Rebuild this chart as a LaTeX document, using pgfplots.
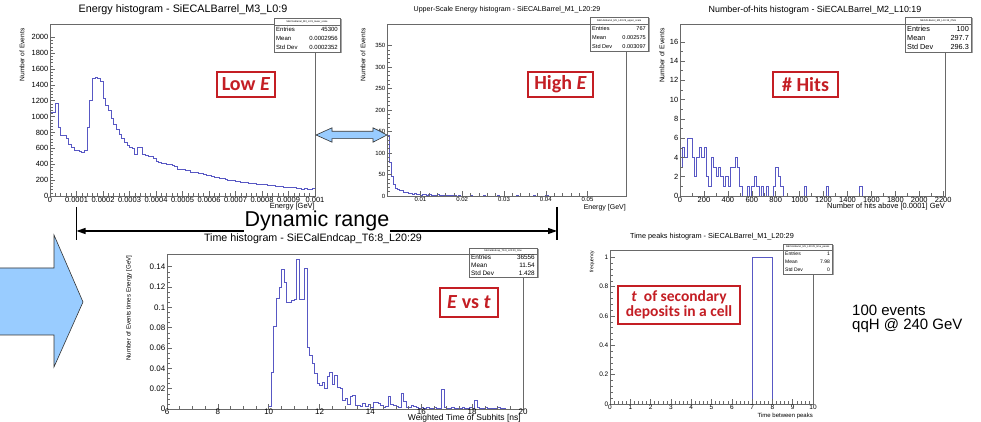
\documentclass[border=0pt]{standalone}
\usepackage{pgfplots}
\pgfplotsset{compat=1.18}
\usepackage{pgfplotstable}
\usetikzlibrary{arrows.meta}
\usepackage{fontspec}
\setmainfont{Liberation Sans}
\newfontfamily\carlito{Carlito}

\definecolor{histblue}{RGB}{88,88,196}
\definecolor{framegray}{RGB}{105,105,105}
\definecolor{boxred}{RGB}{196,30,36}
\definecolor{arrowblue}{RGB}{153,204,255}

% lower-scale energy, bins of 1e-5 GeV (x in bin index)
\pgfplotstableread{
b v
0 0
0 1050
1 1050
2 1170
3 870
4 760
5 760
6 720
7 650
8 610
9 580
10 570
11 560
12 550
13 580
14 870
15 1200
16 1480
17 1500
18 1480
19 1440
20 1230
21 1140
22 1080
23 980
24 900
25 840
26 780
27 720
28 670
29 640
30 610
31 600
32 530
33 610
34 610
35 530
36 510
37 500
38 500
39 480
40 440
41 420
42 415
43 405
44 400
45 395
46 380
47 370
48 340
49 335
50 330
51 325
52 320
53 300
54 298
55 295
56 290
57 280
58 270
59 262
60 255
61 250
62 240
63 232
64 225
65 220
66 208
67 200
68 195
69 198
70 185
71 180
72 175
73 168
74 172
75 160
76 155
77 158
78 150
79 145
80 142
81 146
82 135
83 130
84 132
85 125
86 122
87 124
88 115
89 112
90 110
91 105
92 104
93 100
94 102
95 90
96 95
97 88
98 85
99 92
100 92
100 0
}\lowE

% upper-scale energy, x in 1e-3 GeV
\pgfplotstableread{
x v
2 0
2 142
2.5 78
3 45
3.5 28
4 18
4.5 16
5 14
5.5 12
6 9
6.5 8
7 5
7.5 6
8 4
8.5 5
9 3
9.5 4
10 2
10.5 3
11 3
11.5 2
12 4
12.5 1
13 2
13.5 1
14 3
14.5 1
15 2
15.5 1
16 1
16.5 2
17 1
17.5 2
18 1
18.5 0
19 1
19.5 0
22 1
22.5 0
25 1
25.5 0
28.5 1
29 0
33 1
33.5 0
37 1
37.5 0
40 1
40.5 0
59.2 0
}\highE

\pgfplotstableread{
x v
0 0
0 3
20 5
40 4
60 6
80 6
100 4
120 2
140 4
160 5
180 4
200 5
220 2
240 1
260 4
280 3
300 2
320 3
340 2
360 1
380 2
400 1
420 3
440 3
460 4
480 3
500 1
520 0
560 1
580 0
600 1
620 2
640 1
660 0
680 1
700 0
720 1
740 0
780 1
800 3
820 2
840 1
860 0
1040 1
1060 0
1220 1
1240 0
1500 1
1520 0
}\nhits

\pgfplotstableread{
x v
10.0 0
10.0 0.003
10.1 0.036
10.2 0.081
10.3 0.109
10.4 0.120
10.5 0.137
10.6 0.125
10.7 0.105
10.8 0.105
10.9 0.107
11.0 0.108
11.1 0.147
11.2 0.108
11.3 0.108
11.4 0.138
11.5 0.061
11.6 0.053
11.7 0.045
11.8 0.035
11.9 0.025
12.0 0.023
12.1 0.026
12.2 0.020
12.3 0.032
12.4 0.036
12.5 0.024
12.6 0.033
12.7 0.021
12.8 0.020
12.9 0.009
13.0 0.010
13.1 0.005
13.2 0.012
13.3 0.013
13.4 0.004
13.5 0.004
13.6 0.003
13.7 0.006
13.8 0.003
13.9 0.005
14.0 0.002
14.1 0.007
14.2 0.007
14.3 0.006
14.4 0.004
14.5 0.002
14.6 0.003
14.7 0.012
14.8 0.005
14.9 0.004
15.0 0.003
15.1 0.002
15.2 0.015
15.3 0.008
15.4 0.002
15.5 0.002
15.6 0.004
15.7 0.003
15.8 0.002
15.9 0.001
16.0 0.002
16.1 0.001
16.2 0.002
16.3 0.001
16.4 0.001
16.5 0.002
16.6 0.001
16.7 0.001
16.8 0.019
16.9 0.002
17.0 0.001
17.1 0.001
17.2 0.002
17.3 0.001
17.4 0.001
17.5 0.001
17.6 0.002
17.7 0.001
17.8 0.001
17.9 0.002
18.0 0.001
18.1 0.009
18.2 0.002
18.3 0.001
18.4 0.001
18.5 0.002
18.6 0.001
18.7 0.001
18.8 0.0005
18.9 0.001
19.0 0.002
19.1 0.001
19.2 0.001
19.3 0
}\tdist

\pgfplotstableread{
x v
0 0
7 1
8 0
10 0
}\tpeaks

\pgfplotsset{
  rootaxis/.style={
    scale only axis, anchor=south west, axis on top,
    xtick pos=bottom, ytick pos=left, tick align=inside,
    major tick length=5pt, minor tick length=2.5pt,
    axis line style={framegray, line width=0.6pt},
    tick style={framegray, line width=0.5pt},
    /pgf/number format/assume math mode=true,
    /pgf/number format/1000 sep={},
    scaled ticks=false,
    xticklabel style={inner sep=1pt},
    yticklabel style={inner sep=1.5pt},
  },
  roothist/.style={const plot, histblue, line width=0.7pt, no marks},
}

% x1, ytop, x2, ybottom, header, entries, mean, std dev, font size
\newcommand{\statbox}[9]{%
  \pgfmathsetmacro{\sbhead}{#2-0.2*(#2-#4)}%
  \pgfmathsetmacro{\sbrow}{0.8*(#2-#4)/3}%
  \fill[black!35] (#1+1.5,#4-1.5) rectangle (#3+1.5,#2-1.5);
  \filldraw[fill=white, draw=framegray, line width=0.5pt] (#1,#4) rectangle (#3,#2);
  \draw[framegray, line width=0.4pt] (#1,\sbhead) -- (#3,\sbhead);
  \node[font=\fontsize{2.5}{3}\selectfont, inner sep=0pt] at ({(#1+#3)/2},{(#2+\sbhead)/2}) {#5};
  \foreach \lab/\val [count=\i] in {Entries/#6, Mean/#7, Std Dev/#8} {
    \node[font=\fontsize{#9}{#9}\selectfont, anchor=west, inner sep=0pt] at (#1+2,{\sbhead-(\i-0.5)*\sbrow}) {\lab};
    \node[font=\fontsize{#9}{#9}\selectfont, anchor=east, inner sep=0pt] at (#3-2,{\sbhead-(\i-0.5)*\sbrow}) {\val};
  }
}
% x1, ytop, x2, ybottom, size, text
\newcommand{\redbox}[6]{%
  \filldraw[fill=white, draw=boxred, line width=2.2pt] (#1,#2) rectangle (#3,#4);
  \node[text=boxred, align=center, inner sep=0pt, font=\carlito\bfseries\fontsize{#5}{#5}\selectfont]
    at ({(#1+#3)/2},{(#2+#4)/2}) {#6};
}

\begin{document}
\begin{tikzpicture}[x=1pt,y=1pt]
\useasboundingbox (0,0) rectangle (981,422);

% low E
\begin{axis}[rootaxis, at={(50pt,226pt)}, width=265pt, height=172pt,
  xmin=0, xmax=100, ymin=0, ymax=2167,
  xtick={0,10,...,100},
  xticklabels={0,0.0001,0.0002,0.0003,0.0004,0.0005,0.0006,0.0007,0.0008,0.0009,0.001},
  ytick={0,200,...,2000}, minor x tick num=4, minor y tick num=4,
  tick label style={font=\fontsize{7.5}{8}\selectfont}]
\addplot[roothist] table[x=b,y=v] {\lowE};
\end{axis}

% high E
\begin{axis}[rootaxis, at={(387pt,226pt)}, width=239pt, height=172pt,
  xmin=2, xmax=59.2, ymin=0, ymax=400,
  xtick={10,20,...,50}, xticklabels={0.01,0.02,0.03,0.04,0.05},
  ytick={0,50,...,350}, minor x tick num=4, minor y tick num=4,
  tick label style={font=\fontsize{6}{7}\selectfont}]
\addplot[roothist] table[x=x,y=v] {\highE};
\end{axis}

% number of hits
\begin{axis}[rootaxis, at={(680pt,226pt)}, width=265pt, height=172pt,
  xmin=0, xmax=2215, ymin=0, ymax=17.85,
  xtick={0,200,...,2200}, ytick={0,2,...,16},
  minor x tick num=1, minor y tick num=1,
  tick label style={font=\fontsize{7.5}{8}\selectfont}]
\addplot[roothist] table[x=x,y=v] {\nhits};
\end{axis}

% time
\begin{axis}[rootaxis, at={(167pt,13pt)}, width=356pt, height=155pt,
  xmin=6, xmax=20, ymin=0, ymax=0.1525,
  xtick={6,8,...,20}, ytick={0,0.02,...,0.14},
  minor x tick num=3, minor y tick num=3,
  yticklabel style={/pgf/number format/fixed, /pgf/number format/precision=2},
  xticklabel style={yshift=1.5pt},
  tick label style={font=\fontsize{8}{8}\selectfont}]
\addplot[roothist] table[x=x,y=v] {\tdist};
\end{axis}

% time peaks
\begin{axis}[rootaxis, at={(610pt,18pt)}, width=203pt, height=154pt,
  xmin=0, xmax=10, ymin=0, ymax=1.05,
  xtick={0,1,...,10}, ytick={0,0.2,...,1},
  minor x tick num=4, minor y tick num=4,
  yticklabel style={/pgf/number format/fixed, /pgf/number format/precision=1},
  tick label style={font=\fontsize{6.5}{7}\selectfont}]
\addplot[roothist] table[x=x,y=v] {\tpeaks};
\end{axis}

% titles
\node[font=\fontsize{10.8}{11}\selectfont] at (183,412) {Energy histogram - SiECALBarrel\_M3\_L0:9};
\node[font=\fontsize{7.1}{8}\selectfont] at (507,412) {Upper-Scale Energy histogram - SiECALBarrel\_M1\_L20:29};
\node[font=\fontsize{8.9}{9}\selectfont] at (815,412) {Number-of-hits histogram - SiECALBarrel\_M2\_L10:19};
\node[font=\fontsize{10.7}{11}\selectfont] at (313,183) {Time histogram - SiECalEndcap\_T6:8\_L20:29};
\node[font=\fontsize{7.3}{8}\selectfont] at (712,185) {Time peaks histogram - SiECALBarrel\_M1\_L20:29};

% axis titles
\node[rotate=90, anchor=east, font=\fontsize{6.6}{7}\selectfont] at (22,397) {Number of Events};
\node[rotate=90, anchor=east, font=\fontsize{6.6}{7}\selectfont] at (363,397) {Number of Events};
\node[rotate=90, anchor=east, font=\fontsize{6.8}{7}\selectfont] at (662,397) {Number of Events};
\node[rotate=90, anchor=east, font=\fontsize{6.2}{7}\selectfont] at (129,170) {Number of Events times Energy [GeV]};
\node[rotate=90, anchor=east, font=\fontsize{5}{6}\selectfont] at (592,175) {frequency};
\node[anchor=east, font=\fontsize{7.5}{8}\selectfont, inner sep=0pt] at (315,215) {Energy [GeV]};
\node[anchor=east, font=\fontsize{7}{8}\selectfont, inner sep=0pt] at (626,214) {Energy [GeV]};
\node[anchor=east, font=\fontsize{7.5}{8}\selectfont, inner sep=0pt] at (945,215) {Number of hits above [0.0001] GeV};
\node[anchor=east, font=\fontsize{8.5}{9}\selectfont, inner sep=0pt] at (521,3.2) {Weighted Time of Subhits [ns]};
\node[anchor=east, font=\fontsize{6}{7}\selectfont, inner sep=0pt] at (813,6) {Time between peaks};

% stats boxes
\statbox{274}{404}{340}{370}{SiECALBarrel\_M3\_L0:9\_lower\_scale}{45300}{0.0002956}{0.0002352}{6}
\statbox{590}{405}{648}{371}{SiECALBarrel\_M1\_L20:29\_upper\_scale}{767}{0.002575}{0.003097}{5.6}
\statbox{905}{405}{971}{370}{SiECALBarrel\_M2\_L10:19\_\#hits}{100}{297.7}{296.3}{7.3}
\statbox{469}{174}{537}{145}{SiECalEndcap\_T6:8\_L20:29\_time}{36556}{11.54}{1.428}{6.4}
\statbox{783}{178}{832}{148}{SiECALBarrel\_M1\_L20:29\_time\_peaks}{1}{7.98}{0}{5}

% red labels
\redbox{217}{350}{275}{325}{20}{Low \textit{E}}
\redbox{528}{350}{593}{325}{20}{High \textit{E}}
\redbox{773}{350}{838}{325}{20}{\# Hits}
\redbox{440}{134}{498}{105}{20}{\textit{E} vs \textit{t}}
\redbox{618}{136}{740}{98}{15.5}{\textit{t}\ \ of secondary\\ deposits in a cell}

% arrows
\fill[arrowblue] (0,154) -- (54,154) -- (54,187) -- (83,120) -- (54,55) -- (54,87) -- (0,87) -- cycle;
\draw[black!80, line width=0.6pt] (0,154) -- (54,154) -- (54,187) -- (83,120) -- (54,55) -- (54,87) -- (0,87);
\filldraw[fill=arrowblue, draw=black!80, line width=0.6pt] (316,287) -- (332,294.2) -- (332,290.7) -- (373,290.7) -- (373,294.2) -- (387,287) -- (373,279.8) -- (373,283.3) -- (332,283.3) -- (332,279.8) -- cycle;

% dynamic range
\draw[line width=1.1pt] (76.5,215) -- (76.5,182);
\draw[line width=1.1pt] (557,215) -- (557,182);
\draw[line width=1.1pt, -{Triangle[length=9pt,width=6pt]}] (316,191) -- (557,191);
\draw[line width=1.1pt, -{Triangle[length=9pt,width=6pt]}] (316,191) -- (76.5,191);
\node[font=\fontsize{21.5}{22}\selectfont, fill=white, inner sep=0.5pt] at (317,201) {Dynamic range};

% note
\node[anchor=base west, font=\fontsize{15}{15}\selectfont, inner sep=0pt] at (852,106.5) {100 events};
\node[anchor=base west, font=\fontsize{15}{15}\selectfont, inner sep=0pt] at (852,92.5) {qqH @ 240 GeV};
\end{tikzpicture}
\end{document}
